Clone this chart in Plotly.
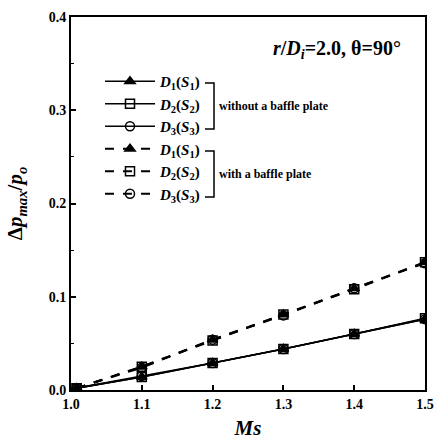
import plotly.graph_objects as go

# ---- data ----
ms = [1.008, 1.1, 1.2, 1.3, 1.4, 1.5]
d1_without = [0.002, 0.014, 0.029, 0.044, 0.060, 0.076]
d2_without = [0.002, 0.014, 0.029, 0.044, 0.060, 0.077]
d3_without = [0.002, 0.015, 0.029, 0.044, 0.060, 0.076]
d1_with = [0.002, 0.025, 0.054, 0.081, 0.109, 0.137]
d2_with = [0.002, 0.025, 0.053, 0.081, 0.108, 0.137]
d3_with = [0.002, 0.024, 0.054, 0.080, 0.109, 0.136]

x_ticks = [1.0, 1.1, 1.2, 1.3, 1.4, 1.5]
y_ticks = [0.0, 0.1, 0.2, 0.3, 0.4]

labels = [
    "<b><i>D</i><sub>1</sub>(<i>S</i><sub>1</sub>)</b>",
    "<b><i>D</i><sub>2</sub>(<i>S</i><sub>2</sub>)</b>",
    "<b><i>D</i><sub>3</sub>(<i>S</i><sub>3</sub>)</b>",
]

FONT = "Liberation Serif"

fig = go.Figure()
series = [
    (d1_without, "solid", "triangle-up", labels[0]),
    (d2_without, "solid", "square-open", labels[1]),
    (d3_without, "solid", "circle-open", labels[2]),
    (d1_with, "dash", "triangle-up", labels[0]),
    (d2_with, "dash", "square-open", labels[1]),
    (d3_with, "dash", "circle-open", labels[2]),
]
for vals, dash, sym, name in series:
    fig.add_trace(go.Scatter(
        x=ms, y=vals, name=name, mode="lines+markers",
        line=dict(color="black", width=1.6 if dash == "solid" else 2, dash=dash),
        marker=dict(symbol=sym, size=9, color="black", line=dict(color="black", width=1.5)),
    ))

fig.update_layout(
    width=437, height=444,
    margin=dict(l=71, r=12, t=17, b=54),
    paper_bgcolor="white", plot_bgcolor="white",
    font=dict(family=FONT, color="black"),
    showlegend=True,
    legend=dict(
        x=(100 - 71) / 354, y=(390 - 65) / 373, xanchor="left", yanchor="top",
        bgcolor="rgba(0,0,0,0)", font=dict(family=FONT, size=15, color="black"),
        itemwidth=50, tracegroupgap=0,
    ),
    xaxis=dict(
        range=[1.0, 1.5], tickvals=x_ticks, ticktext=[f"<b>{v:.1f}</b>" for v in x_ticks],
        ticks="inside", ticklen=5, tickwidth=1.5, tickcolor="black",
        showline=True, linecolor="black", linewidth=2, mirror=True,
        showgrid=False, zeroline=False, automargin=False,
        tickfont=dict(family=FONT, size=14, color="black"),
        title=dict(text="<b><i>Ms</i></b>", font=dict(family=FONT, size=21), standoff=10),
    ),
    yaxis=dict(
        range=[0, 0.4], tickvals=y_ticks, ticktext=[f"<b>{v:.1f}</b>" for v in y_ticks],
        ticks="inside", ticklen=5, tickwidth=1.5, tickcolor="black",
        minor=dict(dtick=0.05, ticks="inside", ticklen=3, tickcolor="black", tickwidth=1.2),
        showline=True, linecolor="black", linewidth=2, mirror=True,
        showgrid=False, zeroline=False, automargin=False,
        tickfont=dict(family=FONT, size=14, color="black"),
        title=dict(text="<b>Δ<i>p</i><sub><i>max</i></sub>/<i>p</i><sub><i>o</i></sub></b>",
                   font=dict(family=FONT, size=21), standoff=20),
    ),
)

def px(xp):
    return (xp - 71) / 354

def py(yp):
    return (390 - yp) / 373

# title annotation
fig.add_annotation(
    x=px(403), y=py(50), xref="paper", yref="paper", xanchor="right", yanchor="middle",
    text="<b><i>r</i>/<i>D</i><sub><i>i</i></sub>=2.0, θ=90°</b>", showarrow=False,
    font=dict(family=FONT, size=20, color="black"),
)

# brackets for legend groups
for top, bot, txt in [(83, 129, "without a baffle plate"), (151, 197, "with a baffle plate")]:
    fig.add_shape(type="path", xref="paper", yref="paper",
                  path=f"M {px(205)},{py(top)} L {px(214)},{py(top)} L {px(214)},{py(bot)} L {px(205)},{py(bot)}",
                  line=dict(color="black", width=1.5))
    fig.add_annotation(x=px(217), y=py((top + bot) / 2), xref="paper", yref="paper",
                       xanchor="left", yanchor="middle", text=f"<b>{txt}</b>", showarrow=False,
                       font=dict(family=FONT, size=12, color="black"))

fig.write_html("out.html")
